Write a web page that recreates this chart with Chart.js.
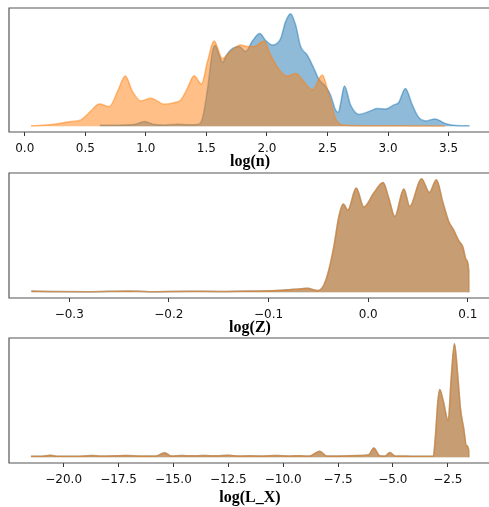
<!DOCTYPE html>
<html>
<head>
<meta charset="utf-8">
<script src="https://cdn.jsdelivr.net/npm/chart.js@4.4.0/dist/chart.umd.min.js"></script>
<style>
  html, body { margin: 0; padding: 0; background: #fff; overflow: hidden; }
  #wrap { position: relative; width: 489px; height: 507px; overflow: hidden; }
  canvas { position: absolute; left: 0; }
</style>
</head>
<body>
<div id="wrap">
  <canvas id="nChart" width="495" height="171" style="top:0px"></canvas>
  <canvas id="zChart" width="495" height="166" style="top:171px"></canvas>
  <canvas id="lxChart" width="495" height="170" style="top:337px"></canvas>
</div>
<script>
// ---- log(n) panel: two density curves (relative heights)
const nBlueX = [0.62, 0.75, 0.9, 0.99, 1.07, 1.15, 1.27, 1.35, 1.43, 1.467, 1.51, 1.55, 1.572, 1.605, 1.632, 1.665, 1.70, 1.77, 1.824, 1.88, 1.94, 1.99, 2.044, 2.113, 2.154, 2.195, 2.237, 2.278, 2.333, 2.388, 2.43, 2.484, 2.525, 2.566, 2.59, 2.608, 2.64, 2.69, 2.76, 2.855, 2.91, 2.98, 3.047, 3.088, 3.143, 3.2, 3.253, 3.308, 3.39, 3.47, 3.54, 3.673];
const nBlueY = [1.0, 1.2, 1.8, 4.8, 1.8, 1.3, 2.2, 1.5, 2.0, 8, 38, 75, 81, 72, 64, 71, 76.5, 80, 75, 85.5, 93, 86, 81.5, 88, 105, 113, 101.5, 80, 71.5, 58, 47, 40, 31.5, 16.5, 14, 23, 40.5, 21.5, 12, 15.5, 18, 17.5, 21.5, 24, 38, 21.5, 9, 5.5, 7.5, 3, 1, 0.5];
const nOrangeX = [0.052, 0.15, 0.244, 0.38, 0.464, 0.547, 0.615, 0.698, 0.766, 0.83, 0.89, 0.959, 1.04, 1.151, 1.24, 1.289, 1.343, 1.398, 1.459, 1.509, 1.563, 1.632, 1.70, 1.783, 1.838, 1.893, 1.975, 2.03, 2.113, 2.168, 2.237, 2.305, 2.374, 2.457, 2.511, 2.566, 2.608, 2.7, 3.0, 3.47];
const nOrangeY = [0.5, 1.2, 2.2, 4.8, 6.5, 15.5, 22.5, 19.8, 34.8, 50.5, 34.8, 25.5, 28.2, 22.2, 24, 26.5, 38, 50.8, 42.5, 65, 85.5, 68, 75, 81.5, 80, 80, 85.5, 71.5, 55, 50.5, 53, 45, 36.5, 51.5, 31.5, 8, 2, 0.8, 0.5, 0.3];
const nTicks = [0, 0.5, 1, 1.5, 2, 2.5, 3, 3.5];

// ---- log(Z) panel (both series coincide)
const zX = [-0.338, -0.32, -0.28, -0.24, -0.22, -0.18, -0.15, -0.12, -0.1, -0.0745, -0.061, -0.051, -0.0445, -0.0395, -0.0345, -0.0294, -0.025, -0.0204, -0.012, -0.0044, 0.0056, 0.015, 0.0206, 0.0267, 0.0357, 0.0417, 0.0534, 0.0614, 0.0684, 0.0751, 0.0808, 0.0858, 0.0908, 0.0948, 0.0985, 0.1008, 0.1009];
const zY = [1.2, 0.8, 0.6, 1.4, 0.6, 1.0, 0.9, 1.3, 1.5, 3, 4, 1.7, 7.3, 22.3, 45.6, 75.6, 88, 82, 104, 85, 99, 109.6, 94, 75.6, 103, 85.6, 113.3, 99.6, 112.3, 89, 70.6, 62, 51.6, 45.6, 32.3, 22.3, 0];
const zTicks = [-0.3, -0.2, -0.1, 0, 0.1];

// ---- log(L_X) panel (both series coincide)
const lxX = [-21.49, -21.0, -20.6, -20.3, -19.5, -18.7, -18.3, -17.6, -17.2, -16.5, -15.8, -15.4, -15.1, -14.6, -14.2, -13.6, -13.0, -12.5, -12.0, -11.5, -11.0, -10.3, -9.7, -9.2, -8.8, -8.34, -8.0, -7.5, -7.0, -6.5, -6.1, -5.87, -5.6, -5.35, -5.14, -4.9, -4.4, -4.0, -3.5, -3.16, -3.06, -2.955, -2.864, -2.71, -2.48, -2.345, -2.195, -2.045, -1.92, -1.77, -1.65, -1.544, -1.543];
const lxY = [1.0, 1.0, 2.0, 1.0, 1.0, 1.8, 1.2, 1.5, 1.8, 1.3, 1.2, 4.6, 1.2, 1.8, 1.5, 1.8, 1.5, 2.0, 1.3, 1.5, 1.3, 1.8, 1.4, 1.6, 1.2, 6, 1.2, 1.3, 1.5, 1.7, 2.5, 9.4, 1.5, 1.2, 4.7, 1.3, 1.2, 1.0, 1.0, 1.2, 21.7, 55, 67.7, 56.7, 36.7, 78.4, 113.4, 81.7, 48.4, 28.4, 11.7, 6.7, 0];
const lxTicks = [-20, -17.5, -15, -12.5, -10, -7.5, -5, -2.5];

const BLUE = "31, 119, 180";
const ORANGE = "255, 127, 14";

// left, top and bottom spines; the right one sits past the window edge
const framePlugin = {
  id: "frame",
  afterDatasetsDraw(chart) {
    const a = chart.chartArea;
    const ctx = chart.ctx;
    const w = chart.width;
    ctx.save();
    ctx.strokeStyle = "#555";
    ctx.lineWidth = 1.2;
    ctx.beginPath();
    ctx.moveTo(w, a.top);
    ctx.lineTo(a.left, a.top);
    ctx.lineTo(a.left, a.bottom);
    ctx.lineTo(w, a.bottom);
    ctx.stroke();
    ctx.restore();
  },
};

const toPoints = (xs, ys) => xs.map((x, i) => ({ x: x, y: ys[i] }));

const series = (label, rgb, xs, ys) => ({
  label: label,
  data: toPoints(xs, ys),
  backgroundColor: `rgba(${rgb}, 0.5)`,
  borderColor: `rgba(${rgb}, 0.5)`,
  borderWidth: 1.5,
  pointRadius: 0,
  cubicInterpolationMode: "monotone",
  fill: "origin",
});

const makePanel = (id, cfg) => {
  const peak = Math.max(...cfg.datasets.flatMap((d) => d.data.map((p) => p.y)));
  return new Chart(document.getElementById(id), {
    type: "line",
    data: { datasets: cfg.datasets },
    options: {
      responsive: false,
      animation: false,
      layout: { padding: { top: cfg.padTop, left: 9, right: 4, bottom: 0 } },
      plugins: { legend: { display: false }, tooltip: { enabled: false } },
      scales: {
        x: {
          type: "linear",
          min: cfg.min,
          max: cfg.max,
          afterBuildTicks: (scale) => {
            scale.ticks = cfg.ticks.map((v) => ({ value: v }));
          },
          afterFit: (scale) => {
            scale.height = cfg.axisHeight;
          },
          border: { display: false },
          grid: {
            drawOnChartArea: false,
            drawTicks: true,
            tickLength: 4,
            tickColor: "#333",
            lineWidth: 1,
          },
          ticks: {
            padding: 6,
            maxRotation: 0,
            autoSkip: false,
            color: "#111",
            font: { family: "DejaVu Sans", size: 12 },
            callback: (v) => v.toFixed(1).replace("-", "\u2212"),
          },
          title: {
            display: true,
            text: cfg.label,
            color: "#000",
            padding: { top: 0, bottom: 0 },
            font: { family: "Liberation Serif", size: 16, weight: "bold" },
          },
        },
        y: { display: false, min: -0.05 * peak, max: 1.05 * peak },
      },
    },
    plugins: [framePlugin],
  });
};

makePanel("nChart", {
  label: "log(n)", min: -0.13, max: 3.85, ticks: nTicks, padTop: 8, axisHeight: 39,
  datasets: [
    series("orange", ORANGE, nOrangeX, nOrangeY),
    series("blue", BLUE, nBlueX, nBlueY),
  ],
});

makePanel("zChart", {
  label: "log(Z)", min: -0.3604, max: 0.1232, ticks: zTicks, padTop: 2, axisHeight: 39,
  datasets: [
    series("orange", ORANGE, zX, zY),
    series("blue", BLUE, zX, zY),
  ],
});

makePanel("lxChart", {
  label: "log(L_X)", min: -22.49, max: -0.53, ticks: lxTicks, padTop: 1, axisHeight: 44,
  datasets: [
    series("orange", ORANGE, lxX, lxY),
    series("blue", BLUE, lxX, lxY),
  ],
});
</script>
</body>
</html>
